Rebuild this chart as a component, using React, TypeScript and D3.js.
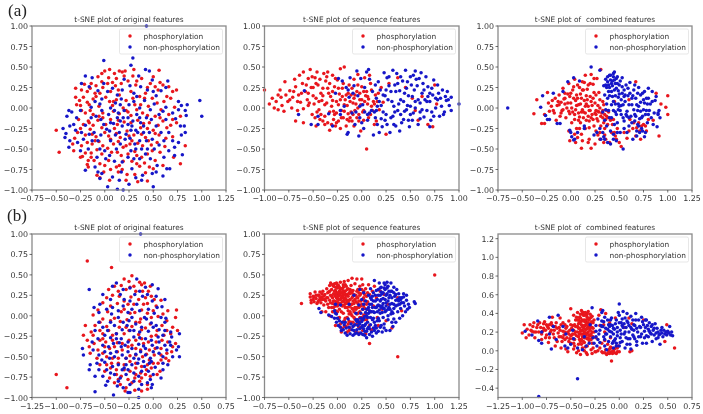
import React from "react";
import * as d3 from "d3";

type P = number[];
const a1Red: P[] = [[-50,-27],[-47,-54],[0,45],[5,47],[10,42],[15,45],[18,44],[21,45],[30,47],[29,39],[56,46],[-7,38],[-3,42],[12,36],[24,33],[38,36],[50,38],[57,31],[-14,30],[-9,27],[3,30],[8,31],[17,30],[32,28],[47,30],[66,26],[-21,29],[-30,24],[-18,20],[-5,18],[6,20],[14,22],[27,20],[42,18],[55,22],[70,20],[74,22],[-30,13],[-22,13],[-12,11],[1,13],[12,10],[22,9],[36,14],[49,12],[61,8],[68,12],[-29,4],[-25,3],[-16,4],[-6,2],[8,3],[19,0],[31,4],[45,2],[58,-2],[72,1],[-20,-6],[-12,-8],[-2,-6],[15,-7],[27,-9],[39,-6],[52,-10],[66,-8],[78,-10],[-27,-14],[-17,-16],[-7,-15],[6,-14],[20,-17],[34,-15],[46,-18],[60,-16],[74,-18],[-25,-25],[-15,-26],[-3,-24],[10,-25],[23,-28],[37,-24],[50,-27],[64,-24],[-31,-37],[-20,-33],[-9,-35],[4,-34],[16,-36],[30,-33],[42,-36],[56,-33],[70,-35],[-33,-44],[-32,-52],[-24,-46],[-13,-44],[-2,-46],[9,-44],[22,-46],[34,-43],[48,-45],[62,-47],[83,-46],[-25,-60],[-23,-59],[-14,-55],[-3,-56],[7,-54],[17,-58],[31,-53],[44,-56],[57,-54],[71,-60],[-17,-64],[-17,-72],[-5,-68],[4,-64],[15,-70],[28,-65],[41,-67],[52,-64],[78,-68],[-18,-69],[-8,-82],[-5,-85],[6,-75],[14,-78],[23,-81],[31,-81],[42,-79],[50,-74],[60,-70],[5,-88],[22,-88],[34,-90],[44,-89],[12,-72],[36,-71],[-2,-12],[6,-38],[19,-48],[33,-58],[45,-40],[-16,-18],[9,8],[24,-5],[37,4],[52,26],[-10,-40],[14,-15],[28,-40],[44,-25],[-3,32],[11,27],[-24,-3],[-14,-60]];
const a1RedMore: P[] = [[-24,22],[-15,24],[-10,18],[-2,25],[4,37],[20,39],[33,33],[44,25],[60,28],[-26,9],[-18,7],[-9,14],[5,8],[15,16],[29,12],[41,12],[54,6],[64,14],[-15,-3],[-6,-10],[9,-4],[22,-3],[33,-2],[44,-9],[57,-12],[70,-14],[-22,-20],[-12,-21],[1,-20],[13,-20],[27,-18],[40,-19],[55,-21],[68,-21],[-28,-30],[-13,-32],[0,-30],[12,-31],[25,-34],[38,-32],[52,-31],[63,-37],[-18,-42],[-6,-41],[14,-41],[26,-44],[39,-46],[54,-42],[-20,-55],[-8,-51],[3,-49],[13,-54],[24,-56],[38,-60],[49,-52],[-11,-64],[0,-70],[19,-65],[33,-68],[46,-72],[-1,-78],[18,-75]];
const a1Blue: P[] = [[98,9],[100,-10],[43,100],[29,61],[-1,58],[27,52],[-20,39],[-24,30],[-1,30],[8,24],[20,35],[35,39],[42,47],[46,45],[49,34],[65,33],[63,25],[-13,37],[-7,21],[-3,11],[13,16],[26,27],[37,26],[58,21],[53,15],[76,8],[79,3],[85,4],[83,-3],[-37,-3],[-34,-5],[-39,-10],[-29,-12],[-14,1],[-3,-3],[11,6],[25,4],[41,9],[47,-2],[63,1],[70,-6],[84,-9],[-43,-25],[-40,-31],[-36,-22],[-20,-21],[-9,-10],[4,-8],[13,-12],[24,-12],[33,-8],[43,-12],[56,-8],[73,-13],[82,-22],[83,-30],[-41,-36],[-36,-40],[-30,-27],[-22,-38],[-11,-30],[-1,-20],[9,-19],[18,-22],[28,-22],[32,-27],[40,-30],[53,-22],[66,-30],[79,-33],[-37,-48],[-28,-42],[-7,-40],[6,-40],[15,-30],[26,-37],[36,-40],[49,-38],[61,-40],[76,-42],[-17,-50],[0,-52],[12,-50],[27,-52],[38,-50],[51,-50],[66,-52],[80,-57],[-20,-76],[-10,-72],[1,-62],[10,-65],[24,-60],[36,-62],[47,-62],[61,-60],[72,-58],[-7,-78],[-5,-86],[-3,-80],[17,-78],[28,-74],[39,-82],[49,-80],[60,-83],[67,-74],[3,-96],[13,-99],[19,-100],[25,-93],[38,-88],[50,-96],[53,-78],[64,-74],[10,-3],[20,-3],[29,-16],[37,-18],[22,-32],[31,-44],[19,-12],[27,-27],[14,-6],[5,-28],[40,-22],[46,-30],[-4,-33],[6,-18],[33,14],[17,11]];
const a1BlueMore: P[] = [[-16,26],[-10,8],[3,20],[18,22],[30,18],[44,22],[50,20],[-25,-3],[-5,5],[6,0],[16,4],[30,8],[36,0],[51,5],[60,-4],[76,-2],[-32,-20],[-14,-12],[-4,-14],[16,-16],[24,-20],[36,-12],[48,-14],[63,-14],[78,-22],[-24,-30],[-16,-32],[2,-26],[11,-33],[21,-38],[34,-30],[43,-40],[58,-30],[70,-40],[-25,-52],[-13,-40],[-5,-50],[16,-44],[32,-50],[44,-50],[56,-45],[72,-48],[-8,-60],[5,-58],[18,-66],[30,-62],[42,-56],[54,-70],[8,-84],[15,-88],[32,-85]];
const a2Red: P[] = [[-100,22],[-95,5],[-92,12],[-90,0],[-88,8],[-86,16],[-86,-2],[-84,22],[-83,13],[-82,3],[-80,-4],[-79,32],[-78,16],[-76,8],[-74,21],[-72,0],[-71,13],[-69,35],[-68,26],[-66,-3],[-65,16],[-64,40],[-63,7],[-61,30],[-60,44],[-60,-1],[-58,20],[-56,10],[-55,36],[-53,47],[-52,25],[-51,-8],[-50,15],[-49,5],[-48,37],[-46,44],[-45,28],[-44,-2],[-42,18],[-41,9],[-39,42],[-38,-10],[-37,33],[-35,44],[-35,24],[-33,-5],[-32,14],[-31,2],[-30,40],[-29,-14],[-28,26],[-27,-22],[-26,8],[-25,34],[-23,17],[-22,48],[-21,-3],[-20,24],[-19,-12],[-18,50],[-17,10],[-15,3],[-14,-7],[-13,28],[-11,16],[-10,-16],[-9,6],[-8,35],[-7,-3],[-5,-12],[-5,20],[-4,41],[-2,10],[-1,-28],[0,26],[1,-5],[2,-15],[3,37],[4,15],[5,-50],[6,5],[8,40],[9,-8],[10,22],[13,-20],[15,-16],[18,-2],[20,25],[22,7],[25,-32],[28,30],[37,37],[45,25],[52,12],[-68,-16],[-60,-18],[-47,-22],[-38,-20],[-33,-27],[-22,-25],[-16,-22],[55,-3],[58,-15],[62,14],[68,-20],[73,-23],[75,28],[77,5],[-35,-18],[-43,-14],[-26,-18],[-20,14],[-11,-5],[-1,4],[7,11],[12,8],[-55,18],[-50,25],[-47,12],[-44,8],[-40,24],[-36,6],[-30,20],[-26,-6],[-24,4],[-18,-4],[-16,16],[-12,-12],[-8,12],[-4,0],[-2,18],[3,8],[5,20],[10,2],[14,16],[-28,-8],[-42,-8],[-55,3],[-62,18],[-74,10],[-3,-8]];
const a2RedMore: P[] = [[-70,20],[-66,8],[-57,28],[-54,6],[-51,38],[-47,30],[-46,-5],[-43,35],[-40,15],[-38,4],[-36,38],[-34,18],[-33,30],[-30,9],[-29,-4],[-27,36],[-24,24],[-22,10],[-21,-12],[-19,30],[-18,4],[-14,18],[-13,-16],[-12,8],[-10,24],[-9,-8],[-7,16],[-6,5],[-4,28],[-3,-16],[0,10],[2,20],[2,-3],[6,14],[7,-12],[9,30],[11,-3],[13,5],[16,8],[17,18],[-48,-12],[-40,-16],[-31,-20],[-24,-16],[-15,-14],[-8,-22]];
const a2Blue: P[] = [[100,5],[92,-3],[92,13],[90,3],[88,20],[87,9],[85,-5],[83,22],[81,12],[80,-10],[78,28],[76,0],[74,34],[73,16],[71,-15],[70,8],[68,26],[67,-3],[66,38],[64,-11],[62,18],[61,43],[60,6],[58,-20],[57,27],[55,45],[53,-6],[52,14],[50,38],[49,-23],[47,3],[46,24],[45,46],[43,-14],[42,33],[40,10],[39,-28],[37,-3],[36,42],[35,20],[33,-20],[32,46],[31,8],[29,-30],[28,27],[26,37],[25,-8],[24,15],[23,43],[21,-23],[20,3],[18,-30],[17,32],[15,12],[14,-12],[12,-33],[11,20],[10,-3],[8,35],[7,47],[6,-15],[5,44],[3,25],[2,-25],[1,4],[-1,36],[-2,-12],[-3,-34],[-4,15],[-5,45],[-7,-20],[-8,27],[-10,-6],[-12,37],[-13,13],[-14,-30],[-15,-32],[-16,25],[-18,2],[-20,33],[-22,-8],[-24,36],[-27,18],[-30,-22],[-34,-7],[-45,-20],[-52,-20],[-59,21],[-65,-8],[-45,-10],[-22,-3],[32,-10],[41,-18],[50,-8],[60,-13],[70,-23],[84,-8],[-2,2],[8,-6],[14,28],[22,-5],[39,21],[48,15],[56,35],[63,30],[27,10],[34,-5],[44,18],[55,0],[65,10],[72,-5],[78,10],[15,-3],[18,8],[30,20],[37,30],[46,-2],[54,22],[60,-5],[68,14],[24,-15],[33,2],[40,-8],[52,-15],[58,10]];
const a2BlueMore: P[] = [[28,38],[34,28],[40,38],[43,8],[47,32],[51,28],[53,40],[55,8],[59,36],[62,-2],[64,22],[67,8],[70,18],[72,24],[74,-10],[76,12],[79,18],[82,2],[86,14],[89,10],[25,22],[22,16],[19,22],[16,2],[13,-5],[30,-12],[35,-22],[38,5],[44,-4],[48,-15],[50,2],[26,-20],[20,-13],[16,-20],[6,-8],[3,-5],[0,-18],[-6,-5],[-9,18],[-14,22]];
const a3Red: P[] = [[-38,-7],[-35,10],[-30,-19],[-27,-19],[-27,-8],[-24,19],[-23,6],[-22,-4],[-20,2],[-19,9],[-17,-6],[-16,12],[-15,-15],[-14,3],[-12,16],[-11,-10],[-10,7],[-9,-3],[-8,24],[-7,11],[-5,-12],[-4,0],[-3,17],[-2,30],[-1,-7],[0,6],[1,-18],[2,22],[3,12],[4,35],[5,-2],[6,-25],[7,28],[8,4],[9,-11],[10,17],[11,-32],[12,32],[13,-5],[14,9],[15,40],[16,-15],[17,23],[18,2],[19,-38],[20,14],[21,41],[22,-8],[23,29],[24,-22],[25,6],[26,-3],[27,36],[28,-16],[29,19],[30,-30],[31,47],[32,-6],[33,-12],[34,4],[35,-25],[36,-38],[37,-10],[38,-20],[40,-42],[42,-30],[44,-14],[46,-34],[48,-25],[50,-42],[52,-47],[55,-30],[58,-37],[61,-14],[64,-25],[67,-34],[70,-18],[72,-38],[75,-20],[78,-28],[80,-14],[85,-15],[88,18],[91,-34],[93,5],[98,1],[100,15],[100,-8],[11,-49],[21,-49],[-1,-40],[5,-42],[12,-40],[18,-42],[25,-44],[4,-32],[-2,-28],[9,-25],[15,-25],[67,32],[60,10],[45,8],[-6,18],[-10,-6],[6,16],[13,22],[19,-3],[24,19],[16,5],[-12,4],[-6,5],[-1,14],[2,-5],[5,9],[8,-6],[11,12],[12,-2],[15,-6],[16,15],[18,-10],[20,-3],[21,8],[23,-14],[26,-8],[27,-13],[28,3],[29,-5],[30,10],[31,-10],[33,-3],[34,-18],[35,-8],[37,-3],[39,-5],[9,25],[14,31],[20,30],[24,36],[4,-14],[10,-18],[19,-24],[26,-28],[31,-22],[73,-22],[68,-24],[7,-36],[28,-33],[34,-42]];
const a3RedMore: P[] = [[-18,-3],[-13,8],[-8,-2],[-6,12],[-3,6],[-2,-4],[0,18],[1,0],[3,26],[4,-8],[6,3],[7,12],[8,-15],[10,5],[11,-5],[12,22],[13,-12],[15,2],[17,10],[18,28],[19,-16],[21,-12],[22,3],[23,12],[25,-6],[26,16],[28,-4],[30,0],[33,8],[36,-14],[39,-12],[41,-15],[43,-20],[45,-30],[47,-38],[35,-33],[30,-38],[60,-28],[65,-18],[71,-28],[77,-22]];
const a3Blue: P[] = [[-65,0],[-31,1],[-29,15],[-26,-9],[-24,-14],[-22,-14],[-18,18],[-14,-19],[-11,-19],[-8,20],[-3,32],[0,-30],[1,-35],[4,-38],[7,-30],[-1,-27],[3,-39],[3,37],[9,33],[14,-22],[14,-25],[21,50],[24,-33],[27,-30],[30,46],[30,-25],[31,-38],[33,-30],[34,-35],[34,27],[35,16],[35,-15],[36,35],[37,5],[37,-22],[38,-42],[39,28],[39,-3],[40,40],[40,15],[41,-28],[41,-44],[42,-12],[43,33],[44,8],[44,-32],[45,22],[45,44],[46,-5],[47,36],[47,-40],[48,-18],[49,13],[50,28],[50,2],[51,-30],[52,-8],[53,37],[53,18],[54,-50],[55,-16],[56,8],[57,28],[58,-4],[58,-30],[59,15],[60,-22],[61,31],[62,-10],[63,4],[64,-38],[65,22],[66,-16],[67,12],[68,-28],[69,-3],[70,25],[71,-13],[72,7],[73,-25],[74,18],[75,-2],[76,-35],[77,-8],[78,12],[79,-18],[80,24],[81,-3],[82,5],[83,-12],[84,20],[85,-20],[86,-6],[87,9],[88,14],[89,-23],[90,-8],[91,-3],[92,-12],[90,-6],[76,20],[68,-34],[63,-18],[55,-25],[45,-20],[40,25],[48,30],[42,20],[38,32],[52,10],[36,-2],[46,5],[37,25],[41,34],[43,27],[44,38],[46,30],[49,21],[51,33],[55,22],[38,12],[42,4],[47,-8],[49,-2],[52,3],[55,14],[60,4],[64,15],[68,4],[72,-4],[76,6],[80,12],[84,8],[70,-22],[74,-10],[66,-8],[58,-10],[44,-3],[40,-12],[33,-5]];
const a3BlueMore: P[] = [[36,28],[38,38],[39,20],[41,40],[42,30],[43,14],[44,42],[45,34],[46,15],[47,24],[48,38],[49,5],[50,17],[51,-3],[53,26],[54,4],[56,16],[57,-8],[59,24],[60,-12],[61,18],[63,12],[65,-2],[66,28],[67,-10],[69,18],[70,2],[72,16],[73,-12],[75,10],[77,-30],[78,-3],[79,5],[80,-8],[74,-28],[71,-30],[69,-20],[54,-12],[48,-30],[44,-38],[35,-38]];
const b1Red: P[] = [[-68,67],[-43,59],[-100,-72],[-89,-88],[-22,49],[-30,45],[-25,42],[-14,41],[-12,38],[-9,40],[-33,37],[-40,36],[-46,32],[-28,32],[-18,30],[-5,30],[-42,25],[-35,24],[-23,23],[-15,20],[-2,24],[8,19],[-52,16],[-37,15],[-26,14],[-10,14],[3,12],[-57,7],[-47,5],[-33,5],[-19,4],[-6,3],[15,6],[24,7],[-62,1],[-52,-4],[-40,-3],[-27,-5],[-13,-4],[5,-1],[23,-2],[-70,-12],[-60,-12],[-48,-13],[-35,-14],[-22,-13],[-8,-15],[9,-12],[20,-14],[-72,-24],[-64,-20],[-52,-22],[-42,-24],[-30,-22],[-15,-23],[-2,-25],[11,-24],[25,-18],[-68,-30],[-61,-34],[-49,-32],[-37,-33],[-25,-30],[-10,-34],[3,-32],[15,-32],[23,-34],[-66,-38],[-57,-42],[-45,-40],[-32,-42],[-18,-40],[-4,-42],[8,-40],[19,-44],[-65,-46],[-58,-52],[-48,-50],[-36,-52],[-24,-49],[-11,-50],[1,-48],[13,-52],[-55,-60],[-43,-58],[-30,-60],[-18,-58],[-6,-60],[5,-58],[16,-55],[-50,-68],[-38,-66],[-24,-68],[-13,-70],[-2,-64],[7,-68],[-45,-76],[-33,-74],[-19,-76],[-8,-72],[4,-72],[-34,-84],[-28,-88],[-22,-82],[-14,-80],[-6,-84],[-29,-92],[-19,-91],[-12,-92],[-6,-90],[-36,-78],[-44,-64],[-20,36],[-8,22],[-30,8],[-44,-6],[-55,-18],[-25,-18],[-12,-28],[4,-18],[-40,-38],[-22,-36],[-7,-47],[8,-54],[-38,-22],[-18,-64],[-3,-74],[-28,-52],[-52,-28],[14,-18],[-14,-8],[0,6]];
const b1RedMore: P[] = [[-36,30],[-24,35],[-11,30],[-3,36],[-48,22],[-30,18],[-20,14],[-6,15],[1,20],[-44,12],[-24,3],[-12,7],[-2,-2],[10,2],[-55,-8],[-34,-7],[-18,-8],[-3,-10],[14,-6],[-62,-24],[-46,-18],[-28,-14],[-12,-17],[3,-24],[18,-22],[-55,-30],[-42,-30],[-32,-34],[-18,-30],[-5,-32],[9,-30],[20,-38],[-50,-38],[-37,-44],[-26,-38],[-13,-42],[2,-40],[14,-46],[-52,-46],[-42,-52],[-18,-48],[-4,-54],[8,-48],[-48,-60],[-36,-58],[-24,-56],[-12,-62],[0,-58],[-30,-66],[-18,-72],[-7,-66],[-38,-72],[-26,-78],[-12,-76],[-40,-82]];
const b1Blue: P[] = [[-66,32],[-13,100],[-38,40],[-42,36],[-17,45],[-31,32],[-8,35],[-1,38],[5,33],[-52,26],[-44,20],[-30,20],[-19,26],[-11,24],[-1,18],[12,20],[-55,14],[-42,10],[-31,12],[-17,14],[-5,8],[9,11],[-61,10],[-56,4],[-43,2],[-22,8],[-9,-2],[1,3],[13,-3],[-56,-8],[-44,-8],[-31,-8],[-18,-10],[-2,-9],[12,-8],[-60,-18],[-47,-18],[-32,-17],[-20,-18],[-5,-19],[6,-17],[18,-20],[-57,-28],[-44,-27],[-33,-28],[-20,-26],[-8,-28],[5,-26],[19,-26],[27,-22],[-63,-32],[-52,-36],[-41,-34],[-29,-36],[-15,-35],[-1,-36],[12,-36],[26,-38],[-73,-40],[-62,-42],[-50,-44],[-38,-44],[-26,-44],[-13,-44],[0,-44],[14,-42],[24,-42],[-72,-48],[-53,-54],[-40,-50],[-28,-52],[-15,-53],[-3,-52],[10,-50],[20,-50],[27,-50],[-65,-60],[-50,-57],[-36,-60],[-22,-60],[-9,-62],[2,-63],[15,-60],[-66,-66],[-56,-66],[-44,-70],[-32,-66],[-20,-70],[-5,-68],[10,-66],[-60,-74],[-52,-74],[-40,-72],[-28,-72],[-15,-74],[-3,-78],[8,-76],[-47,-80],[-36,-80],[-24,-84],[-12,-84],[-1,-84],[-60,-93],[-49,-85],[-41,-97],[-31,-88],[-24,-94],[-15,-90],[-2,-88],[-26,-94],[-15,-100],[-37,-86],[-25,-6],[-12,-14],[-38,-22],[-26,-32],[-8,-40],[6,-32],[-18,-47],[-33,-38],[-45,-52],[-10,-56],[-24,-18],[-36,6],[-14,30],[-24,34],[3,-12],[17,-32],[-30,-64],[-4,-58]];
const b1BlueMore: P[] = [[-34,26],[-24,18],[-6,26],[3,24],[-48,8],[-26,4],[-14,6],[4,10],[-36,-2],[-22,-2],[-7,-4],[8,-2],[-52,-14],[-40,-12],[-27,-12],[-14,-20],[0,-14],[12,-18],[-50,-24],[-38,-28],[-14,-27],[-2,-30],[10,-24],[-46,-38],[-35,-33],[-22,-40],[-10,-37],[4,-39],[18,-36],[-56,-48],[-44,-46],[-32,-48],[-20,-52],[-8,-48],[6,-46],[-58,-58],[-42,-62],[-28,-60],[-16,-58],[-2,-56],[10,-58],[-48,-66],[-26,-66],[-12,-68],[0,-72],[-34,-76],[-20,-80],[-6,-82]];
const b2Red: P[] = [[100,50],[62,-50],[33,-34],[-37,15],[-28,27],[-28,23],[-27,19],[-27,16],[-25,24],[-24,17],[-23,29],[-22,21],[-21,15],[-20,25],[-19,19],[-18,29],[-17,16],[-16,23],[-15,30],[-15,20],[-14,13],[-13,26],[-12,5],[-12,18],[-11,33],[-10,22],[-10,14],[-9,29],[-8,37],[-8,19],[-7,25],[-7,40],[-6,10],[-6,32],[-5,22],[-5,15],[-4,36],[-4,27],[-3,39],[-3,18],[-2,24],[-2,6],[-2,31],[-1,13],[-1,40],[0,21],[0,34],[0,27],[1,-3],[1,16],[1,37],[2,8],[2,25],[2,30],[3,20],[3,41],[3,-10],[4,13],[4,33],[5,-16],[5,24],[5,28],[6,38],[6,3],[6,18],[7,-6],[7,42],[7,30],[8,22],[8,10],[9,36],[9,-13],[9,15],[10,26],[10,-2],[11,43],[11,6],[11,33],[12,19],[12,-18],[13,12],[13,27],[14,37],[14,2],[14,-8],[15,46],[15,22],[16,8],[16,31],[17,-12],[17,15],[18,39],[18,-4],[19,25],[19,-20],[20,10],[20,45],[21,32],[21,3],[22,18],[22,-14],[23,36],[23,5],[24,27],[24,-7],[25,45],[25,14],[26,38],[26,-18],[27,22],[27,1],[28,9],[29,33],[29,-22],[30,-5],[31,17],[32,38],[33,-12],[33,26],[34,5],[35,-17],[36,30],[37,12],[38,36],[40,22],[41,-2],[42,-12],[44,30],[46,8],[48,26],[50,-6],[52,14],[56,-15],[62,22],[66,6],[10,-20],[-16,5],[-8,0],[-2,-12],[4,-20],[12,-7],[22,-21],[6,35],[-1,28],[-4,10],[-3,30],[-1,22],[1,28],[1,20],[2,35],[3,27],[4,22],[5,33],[5,17],[6,26],[7,20],[7,13],[8,30],[8,16],[9,25],[10,18],[10,32],[11,24],[12,11],[12,28],[13,20],[13,5],[14,14],[14,30],[15,9],[15,28],[16,18],[17,-2],[17,26],[18,10],[19,17],[20,2],[20,30],[21,-6],[21,22],[22,10],[23,25],[24,12],[25,-2],[26,8],[27,30],[28,-5],[28,18],[30,24],[31,8],[-6,24],[-8,30],[-3,14],[-10,28],[-13,20],[-18,22],[-22,25],[-25,20],[-24,23],[-20,17],[-16,27],[0,12],[0,5],[4,5],[8,-3],[11,-10],[15,0],[3,15],[-5,38],[8,38],[-7,16]];
const b2RedMore: P[] = [[-4,18],[-3,26],[-2,35],[-1,17],[0,38],[1,24],[2,14],[3,32],[4,28],[6,22],[6,30],[8,26],[9,20],[10,10],[11,16],[12,2],[13,32],[15,14],[16,24],[17,5],[18,20],[19,8],[20,22],[21,15],[22,28],[23,-2],[24,18],[25,32],[26,20],[27,12],[28,26],[29,2],[30,14],[31,28],[13,-15],[16,-8],[20,-10],[24,-14],[7,-13],[2,-2],[-5,5],[-9,10],[-11,22],[-14,24],[-17,20],[-19,25],[-2,12],[5,12]];
const b2Blue: P[] = [[80,15],[79,17],[74,10],[73,14],[72,8],[71,19],[71,25],[70,5],[69,12],[68,23],[68,27],[67,0],[66,16],[65,9],[65,20],[64,-3],[63,27],[62,13],[62,5],[61,32],[60,-8],[60,19],[59,24],[58,35],[58,9],[57,-13],[56,15],[56,30],[55,40],[55,2],[54,-18],[53,22],[53,10],[52,36],[52,-5],[51,41],[51,27],[50,16],[50,-18],[49,5],[49,32],[48,-10],[48,40],[47,21],[47,-2],[46,12],[46,-20],[45,35],[45,29],[44,-14],[44,18],[43,7],[43,40],[42,-19],[42,25],[41,12],[41,-6],[40,31],[40,-21],[39,18],[38,4],[38,43],[37,-15],[37,28],[36,-5],[36,10],[35,20],[35,-20],[34,33],[34,-11],[33,14],[33,-23],[32,3],[32,25],[31,-16],[31,-8],[30,8],[30,-27],[29,18],[28,-19],[28,-12],[27,28],[27,-3],[26,8],[26,-23],[25,-14],[25,20],[24,-21],[24,3],[23,-10],[23,32],[22,-23],[22,13],[21,-5],[20,-17],[19,3],[18,-11],[18,-22],[17,25],[16,-24],[15,-17],[14,-10],[13,-22],[12,14],[11,-4],[10,-24],[9,-15],[8,-21],[7,-11],[6,-17],[5,-8],[4,-18],[3,-14],[2,-6],[1,-12],[0,-3],[-1,-8],[-2,3],[-3,-3],[-3,6],[-2,14],[-17,4],[-19,9],[-9,1],[-6,-1],[3,13],[-1,2],[46,27],[52,0],[56,-8],[44,3],[39,-12],[35,5],[30,-19],[27,14],[42,-3],[48,9],[58,-4],[63,18],[50,6],[47,15],[44,25],[41,20],[39,10],[37,-3],[34,-2],[32,10],[30,0],[29,-10],[27,-16],[25,-7],[23,-16],[21,-12],[20,-7],[37,5],[40,-15],[42,13],[45,10],[48,-15],[52,18],[54,8],[55,30],[57,3],[60,12],[64,22],[48,34],[50,25],[53,30],[44,34],[33,-16],[26,-12],[17,-18],[12,-14],[8,-8]];
const b2BlueMore: P[] = [[68,16],[66,22],[64,14],[62,20],[60,26],[58,14],[58,28],[56,22],[56,5],[54,14],[54,25],[52,8],[51,34],[50,12],[49,20],[49,38],[47,9],[47,28],[46,4],[45,20],[44,12],[43,-6],[42,32],[41,5],[40,10],[39,25],[38,-8],[37,18],[36,24],[35,14],[34,22],[33,6],[32,-14],[31,-2],[29,4],[28,-1],[26,-5],[24,-3],[22,-8],[19,-5],[16,-13],[38,-18],[45,-12],[36,-25],[28,-24],[20,-21]];
const b3Red: P[] = [[57,3],[-8,-11],[49,28],[47,10],[50,20],[-100,19],[-98,28],[-96,14],[-95,23],[-93,17],[-92,28],[-90,21],[-88,30],[-87,14],[-85,25],[-83,20],[-82,30],[-80,12],[-78,24],[-77,31],[-75,17],[-73,9],[-72,28],[-70,22],[-69,36],[-67,14],[-66,5],[-65,30],[-63,19],[-62,25],[-61,35],[-59,10],[-58,21],[-56,28],[-55,2],[-54,14],[-52,32],[-51,22],[-50,45],[-50,8],[-49,17],[-48,27],[-47,38],[-47,2],[-46,12],[-45,20],[-45,33],[-44,-2],[-43,26],[-43,41],[-42,15],[-42,7],[-41,36],[-41,30],[-40,-4],[-40,21],[-39,43],[-39,12],[-38,3],[-38,26],[-37,38],[-37,17],[-36,33],[-36,9],[-35,41],[-35,23],[-35,14],[-34,-2],[-34,29],[-33,36],[-33,5],[-33,19],[-32,42],[-32,26],[-31,11],[-31,33],[-30,39],[-30,22],[-30,16],[-29,30],[-29,1],[-28,8],[-28,37],[-27,24],[-26,33],[-25,-1],[-24,14],[-22,0],[-21,38],[-20,3],[-19,44],[-18,8],[-17,-2],[-16,28],[-15,11],[-14,40],[-14,1],[-13,-4],[-12,7],[-11,0],[-10,-3],[-9,4],[-8,-1],[-7,-3],[-6,0],[-5,-2],[-4,3],[-3,-3],[-2,-1],[-1,5],[0,-1],[5,25],[10,35],[11,-1],[13,0],[13,29],[25,33],[-4,35],[-20,27],[-10,30],[-60,3],[-35,4],[-47,22],[-53,-1],[-40,31],[-56,12],[-24,-1],[-27,3],[-33,-4],[-15,20],[-9,14],[-44,36],[-44,16],[-42,33],[-42,24],[-41,12],[-40,39],[-40,18],[-39,28],[-39,7],[-38,33],[-38,22],[-38,15],[-37,41],[-37,10],[-36,27],[-36,20],[-35,31],[-34,38],[-34,17],[-33,24],[-33,13],[-33,30],[-32,34],[-32,20],[-31,28],[-31,17],[-30,35],[-29,25],[-29,12],[-28,31],[-28,20],[-27,15],[-88,20],[-84,28],[-80,18],[-78,29],[-76,22],[-74,26],[-72,14],[-70,30],[-68,18],[-66,26],[-64,10],[-62,15],[-60,28],[-58,14],[-56,20],[-54,26],[-52,10],[-50,28],[-48,13],[-46,28],[-50,16],[-52,18],[-46,5],[-58,30],[-76,14],[-15,-2],[-12,-3],[-8,3],[-5,2],[-2,3],[-10,2],[-18,-1],[-28,-3],[-36,0],[-42,0]];
const b3RedMore: P[] = [[-43,33],[-43,20],[-42,29],[-41,24],[-41,18],[-40,35],[-40,10],[-39,22],[-39,32],[-38,18],[-38,40],[-37,25],[-37,32],[-36,14],[-36,38],[-35,27],[-35,19],[-34,33],[-34,23],[-33,40],[-32,14],[-32,30],[-31,24],[-30,28],[-30,12],[-29,18],[-29,36],[-28,15],[-28,25],[-27,30],[-26,20],[-45,26],[-46,18],[-47,8],[-48,18],[-49,24],[-51,13],[-53,20],[-55,24],[-57,17],[-60,15],[-61,22],[-64,24],[-67,22],[-69,27],[-71,20],[-73,24],[-75,28],[-79,21],[-81,25],[-86,20],[-89,26],[-91,22]];
const b3Blue: P[] = [[-43,-30],[-83,-49],[-28,46],[0,50],[-84,32],[-72,36],[-63,38],[-97,21],[-90,17],[-80,20],[-72,18],[-68,26],[-83,11],[-80,8],[-70,2],[-65,12],[-58,26],[-55,18],[-48,22],[-56,5],[-53,3],[-50,7],[-47,13],[-43,3],[-38,1],[-34,5],[-31,8],[-27,14],[-24,21],[-24,27],[-23,5],[-22,34],[-21,18],[-20,9],[-19,27],[-18,32],[-18,41],[-17,43],[-16,15],[-15,5],[-15,36],[-14,24],[-13,18],[-12,33],[-11,10],[-11,28],[-10,21],[-9,15],[-8,35],[-7,8],[-7,27],[-6,18],[-5,23],[-4,13],[-3,33],[-2,16],[-2,25],[-1,41],[0,38],[1,22],[1,14],[2,30],[3,10],[4,42],[5,18],[6,35],[7,25],[8,40],[9,13],[9,30],[10,20],[11,7],[12,37],[13,23],[14,33],[15,15],[16,27],[17,40],[18,10],[19,20],[20,33],[21,26],[22,15],[23,36],[24,8],[25,28],[26,21],[27,33],[28,16],[29,27],[30,23],[31,30],[32,19],[33,26],[34,10],[35,22],[36,17],[37,29],[38,13],[39,24],[40,20],[41,17],[42,7],[43,22],[44,19],[45,15],[46,22],[47,18],[48,20],[49,17],[50,21],[51,19],[52,26],[53,17],[54,20],[55,16],[-13,1],[-6,3],[-3,8],[6,3],[12,2],[-36,15],[-30,28],[-26,8],[0,5],[3,27],[15,22],[8,7],[-9,28],[28,8],[18,6],[-17,26],[-5,11],[4,25],[-20,22],[-18,26],[-16,31],[-14,18],[-12,23],[-10,26],[-9,33],[-8,20],[-6,24],[-4,29],[-2,20],[0,30],[2,18],[3,34],[5,29],[6,20],[7,14],[8,32],[10,27],[11,13],[12,25],[14,17],[15,28],[16,13],[17,33],[18,24],[20,15],[22,25],[23,18],[24,31],[26,14],[27,25],[28,33],[30,15],[31,21],[33,18],[34,28],[36,24],[38,19],[40,14],[42,18],[44,25],[-3,5],[-6,10],[1,9],[-22,12],[-24,15],[-15,12]];

const redColor = "#e8141c";
const blueColor = "#1414c8";
const boxes = [
  { title: "t-SNE plot of original features", x0: 32, x1: 226, y0: 26, y1: 190, dx: [-0.75, 1.25], dy: [-1, 1], red: [...a1Red, ...a1RedMore], blue: [...a1Blue, ...a1BlueMore] },
  { title: "t-SNE plot of sequence features", x0: 264.5, x1: 459, y0: 26, y1: 190, dx: [-1, 1], dy: [-1, 1], red: [...a2Red, ...a2RedMore], blue: [...a2Blue, ...a2BlueMore] },
  { title: "t-SNE plot of  combined features", x0: 498, x1: 692, y0: 26, y1: 190, dx: [-0.75, 1.25], dy: [-1, 1], red: [...a3Red, ...a3RedMore], blue: [...a3Blue, ...a3BlueMore] },
  { title: "t-SNE plot of original features", x0: 32, x1: 226, y0: 234, y1: 397.5, dx: [-1.25, 0.75], dy: [-1, 1], red: [...b1Red, ...b1RedMore], blue: [...b1Blue, ...b1BlueMore] },
  { title: "t-SNE plot of sequence features", x0: 264.5, x1: 459, y0: 234, y1: 397.5, dx: [-0.75, 1.25], dy: [-1, 1], red: [...b2Red, ...b2RedMore], blue: [...b2Blue, ...b2BlueMore] },
  { title: "t-SNE plot of  combined features", x0: 498, x1: 692, y0: 234, y1: 397.5, dx: [-1.25, 0.75], dy: [-0.5, 1.25], red: [...b3Red, ...b3RedMore], blue: b3Blue },
];
const quarterTicks = [-1.25, -1, -0.75, -0.5, -0.25, 0, 0.25, 0.5, 0.75, 1, 1.25];
const fifthTicks = [-0.4, -0.2, 0, 0.2, 0.4, 0.6, 0.8, 1, 1.2];
const seriesLabels = ["phosphorylation", "non-phosphorylation"];
const panelLabels = [{ t: "(a)", x: 8, y: 16 }, { t: "(b)", x: 7, y: 221 }];
const ink = "#333";
const font = "'DejaVu Sans', sans-serif";
const minus = (s: string) => s.replace("-", "\u2212");

function Panel({ b }: { b: (typeof boxes)[number] }) {
  const x = d3.scaleLinear().domain(b.dx).range([b.x0, b.x1]);
  const y = d3.scaleLinear().domain(b.dy).range([b.y1, b.y0]);
  const yTicks = b.dy[0] === -0.5 ? fifthTicks : quarterTicks.filter((t) => t >= b.dy[0] && t <= b.dy[1]);
  const xTicks = quarterTicks.filter((t) => t >= b.dx[0] && t <= b.dx[1]);
  const yFmt = b.dy[0] === -0.5 ? d3.format(".1f") : d3.format(".2f");
  const lx = b.x1 - 106.5;
  const ly = b.y0 + 3;
  return (
    <g fontFamily={font} fontSize={7.9} fill={ink}>
      <text x={(b.x0 + b.x1) / 2} y={b.y0 - 4.5} textAnchor="middle" fontSize={7.4} xmlSpace="preserve">{b.title}</text>
      {b.red.map((p, i) => <circle key={"r" + i} cx={x(p[0] / 100)} cy={y(p[1] / 100)} r={1.75} fill={redColor} />)}
      {b.blue.map((p, i) => <circle key={"b" + i} cx={x(p[0] / 100)} cy={y(p[1] / 100)} r={1.75} fill={blueColor} />)}
      <rect x={b.x0} y={b.y0} width={b.x1 - b.x0} height={b.y1 - b.y0} fill="none" stroke="#8a8a8a" strokeWidth={1.3} />
      {xTicks.map((t) => (
        <g key={"x" + t}>
          <line x1={x(t)} x2={x(t)} y1={b.y1} y2={b.y1 + 2.5} stroke={ink} strokeWidth={0.7} />
          <text x={x(t)} y={b.y1 + 11} textAnchor="middle">{minus(d3.format(".2f")(t))}</text>
        </g>
      ))}
      {yTicks.map((t) => (
        <g key={"y" + t}>
          <line x1={b.x0 - 2.5} x2={b.x0} y1={y(t)} y2={y(t)} stroke={ink} strokeWidth={0.7} />
          <text x={b.x0 - 4} y={y(t) + 3} textAnchor="end">{minus(yFmt(t))}</text>
        </g>
      ))}
      <rect x={lx} y={ly} width={103} height={25} rx={1.5} fill="#fff" fillOpacity={0.85} stroke="#ddd" strokeWidth={0.7} />
      <circle cx={lx + 10.5} cy={ly + 7} r={1.75} fill={redColor} />
      <circle cx={lx + 10.5} cy={ly + 18} r={1.75} fill={blueColor} />
      <text x={lx + 24} y={ly + 10} fontSize={7.4}>{seriesLabels[0]}</text>
      <text x={lx + 24} y={ly + 21} fontSize={7.4}>{seriesLabels[1]}</text>
    </g>
  );
}

export default function App() {
  return (
    <svg width={703} height={414} style={{ position: "absolute", left: 0, top: 0, background: "#fff" }}>
      <defs>
        <filter id="soft" x="-5%" y="-5%" width="110%" height="110%">
          <feGaussianBlur stdDeviation={0.3} />
        </filter>
      </defs>
      <g filter="url(#soft)">
        {boxes.map((b, i) => <Panel key={i} b={b} />)}
        {panelLabels.map((l) => (
          <text key={l.t} x={l.x} y={l.y} fontFamily="'Liberation Serif', serif" fontSize={17} fill="#222">{l.t}</text>
        ))}
      </g>
    </svg>
  );
}
